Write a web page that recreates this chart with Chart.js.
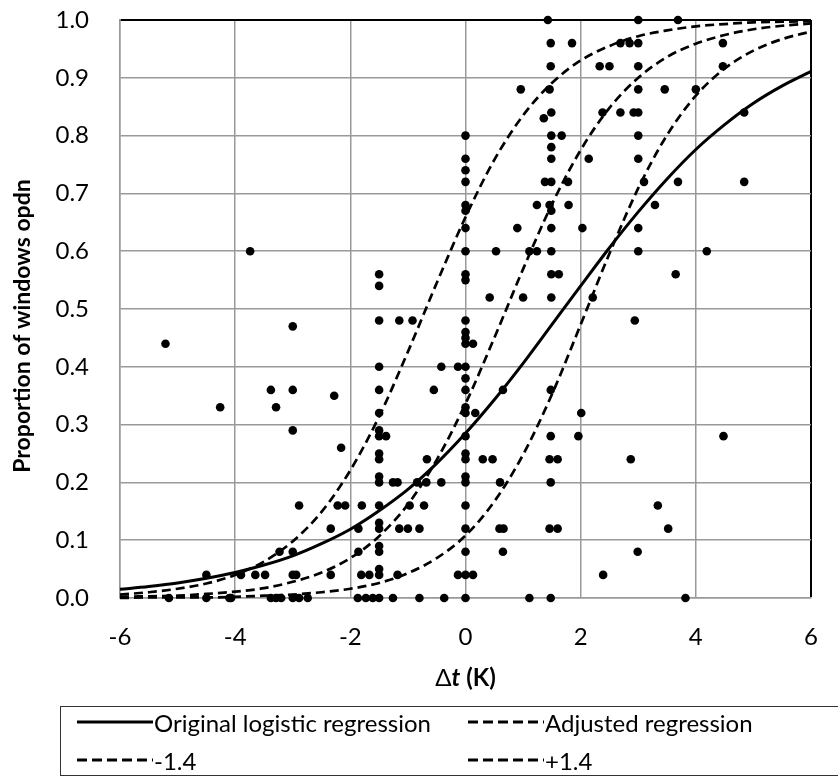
<!DOCTYPE html>
<html>
<head>
<meta charset="utf-8">
<script src="https://cdn.jsdelivr.net/npm/chart.js@4.4.1/dist/chart.umd.min.js"></script>
<style>
  html, body { margin: 0; padding: 0; background: #fff; overflow: hidden; }
  #wrap { position: relative; width: 838px; height: 776px; }
  #myChart { display: block; }
  #legend {
    position: absolute; left: 60px; top: 706px; width: 800px; height: 68px;
    border: 1px solid #333; font-family: Lato, sans-serif; font-size: 24px; color: #000;
  }
  .item { position: absolute; display: flex; align-items: center; height: 30px; white-space: nowrap; }
  .item svg { display: block; margin-right: 1px; }
</style>
</head>
<body>
<div id="wrap">
  <canvas id="myChart" width="838" height="776"></canvas>
  <div id="legend"></div>
</div>
<script>
// -----------------------------------------------------------------------------
// observations (delta t, proportion of windows open)
const dotX = [
  1.43, 3.00, 3.69,
  1.48, 1.85, 2.69, 2.85, 3.00, 4.47,
  1.48, 2.33, 2.50, 3.00, 4.47,
  0.96, 1.46, 3.00, 3.46, 4.00,
  1.36, 1.49, 2.38, 2.69, 2.92, 3.00, 4.84,
  0.00, 1.49, 1.67, 3.00, 1.49,
  0.00, 1.49, 2.14, 3.00, 0.00,
  0.00, 1.38, 1.49, 1.78, 3.10, 3.69, 4.84,
  0.00, 0.00, 1.24, 1.46, 1.49, 1.79, 3.29,
  0.00, 0.90, 1.49, 2.03, 3.00,
  -3.74, 0.00, 0.53, 1.11, 1.24, 1.49, 3.00, 4.19,
  -1.50, -1.50, 0.00, 0.00, 1.49, 1.62, 3.65,
  0.42, 1.00, 1.49, 2.21,
  -3.00, -1.50, -1.15, -0.92, 0.00, 2.94, 0.00, 0.00,
  -5.21, 0.00, 0.13,
  -1.50, -0.42, -0.13, 0.00, 0.00,
  -3.38, -3.00, -1.50, -0.55, 0.00, 0.65, 1.48, -2.28,
  -4.26, -3.29, 0.00,
  -1.50, 0.00, 0.17, 2.01,
  -3.00, -1.50, -1.50, -1.38, 0.00, 1.48, 1.96, 4.48,
  -2.16, -1.50, 0.00,
  -1.50, -0.67, 0.00, 0.30, 0.47, 1.46, 1.60, 2.87,
  -1.50, 0.00,
  -1.50, -1.26, -1.18, -0.84, -0.68, -0.42, 0.00, 0.60, 1.48,
  -2.89, -2.22, -2.09, -1.80, -1.50, -0.97, -0.72, 0.00, 3.34,
  -2.34, -1.86, -1.50, -1.50, -1.15, -1.00, -0.80, 0.00, 0.59, 0.66, 1.46, 1.60, 3.52,
  -3.23, -3.00, -1.86, -1.50, -1.50, 0.00, 0.65, 2.99,
  -4.50, -3.90, -3.65, -3.48, -3.00, -2.94, -2.34, -1.81, -1.67, -1.50, -1.50, -1.18, -0.13, 0.00, 0.13, 2.39,
  -5.15, -4.50, -4.10, -4.07, -3.38, -3.29, -3.20, -3.00, -2.89, -2.74,
  -1.87, -1.73, -1.61, -1.50, -1.26, -0.80, -0.37, 0.00, 1.11, 1.48, 3.82
];
const dotY = [
  1.00, 1.00, 1.00,
  0.96, 0.96, 0.96, 0.96, 0.96, 0.96,
  0.92, 0.92, 0.92, 0.92, 0.92,
  0.88, 0.88, 0.88, 0.88, 0.88,
  0.83, 0.84, 0.84, 0.84, 0.84, 0.84, 0.84,
  0.80, 0.80, 0.80, 0.80, 0.78,
  0.76, 0.76, 0.76, 0.76, 0.74,
  0.72, 0.72, 0.72, 0.72, 0.72, 0.72, 0.72,
  0.68, 0.67, 0.68, 0.68, 0.67, 0.68, 0.68,
  0.64, 0.64, 0.64, 0.64, 0.64,
  0.60, 0.60, 0.60, 0.60, 0.60, 0.60, 0.60, 0.60,
  0.56, 0.54, 0.56, 0.55, 0.56, 0.56, 0.56,
  0.52, 0.52, 0.52, 0.52,
  0.47, 0.48, 0.48, 0.48, 0.48, 0.48, 0.46, 0.45,
  0.44, 0.44, 0.44,
  0.40, 0.40, 0.40, 0.40, 0.38,
  0.36, 0.36, 0.36, 0.36, 0.36, 0.36, 0.36, 0.35,
  0.33, 0.33, 0.33,
  0.32, 0.32, 0.32, 0.32,
  0.29, 0.29, 0.28, 0.28, 0.28, 0.28, 0.28, 0.28,
  0.26, 0.25, 0.25,
  0.24, 0.24, 0.24, 0.24, 0.24, 0.24, 0.24, 0.24,
  0.21, 0.21,
  0.20, 0.20, 0.20, 0.20, 0.20, 0.20, 0.20, 0.20, 0.20,
  0.16, 0.16, 0.16, 0.16, 0.16, 0.16, 0.16, 0.16, 0.16,
  0.12, 0.12, 0.13, 0.12, 0.12, 0.12, 0.12, 0.12, 0.12, 0.12, 0.12, 0.12, 0.12,
  0.08, 0.08, 0.08, 0.09, 0.08, 0.08, 0.08, 0.08,
  0.04, 0.04, 0.04, 0.04, 0.04, 0.04, 0.04, 0.04, 0.04, 0.05, 0.04, 0.04, 0.04, 0.04, 0.04, 0.04,
  0, 0, 0, 0, 0, 0, 0, 0, 0, 0,
  0, 0, 0, 0, 0, 0, 0, 0, 0, 0, 0
];

// regression curves, every 0.5 K
const curveX = [-6, -5.5, -5, -4.5, -4, -3.5, -3, -2.5, -2, -1.5, -1, -0.5, 0,
  0.5, 1, 1.5, 2, 2.5, 3, 3.5, 4, 4.5, 5, 5.5, 6];
const originalY = [0.015, 0.020, 0.026, 0.034, 0.044, 0.057, 0.073, 0.094, 0.119, 0.151, 0.188, 0.233, 0.285,
  0.343, 0.406, 0.473, 0.540, 0.606, 0.668, 0.725, 0.776, 0.819, 0.856, 0.886, 0.911];
const adjustedY = [0.002, 0.003, 0.004, 0.007, 0.011, 0.017, 0.028, 0.044, 0.069, 0.107, 0.162, 0.239, 0.336,
  0.450, 0.569, 0.681, 0.775, 0.848, 0.900, 0.936, 0.959, 0.974, 0.984, 0.990, 0.994];
const minusY = [0.006, 0.010, 0.016, 0.025, 0.040, 0.063, 0.098, 0.149, 0.221, 0.314, 0.426, 0.545, 0.659,
  0.758, 0.835, 0.891, 0.930, 0.955, 0.972, 0.982, 0.989, 0.993, 0.996, 0.997, 0.998];
const plusY = [0.000, 0.001, 0.001, 0.001, 0.002, 0.004, 0.006, 0.010, 0.016, 0.026, 0.043, 0.069, 0.108,
  0.167, 0.248, 0.352, 0.473, 0.596, 0.709, 0.801, 0.869, 0.916, 0.947, 0.967, 0.980];

const seriesLabels = ["Original logistic regression", "Adjusted regression", "-1.4", "+1.4"];
const xTicks = { min: -6, max: 6, step: 2 };
const yTicks = { min: 0, max: 1, step: 0.1 };
const yTitle = "Proportion of windows opdn";
// -----------------------------------------------------------------------------

const ctx = document.getElementById("myChart");
const gridGrey = "#999999";

function toPoints(xs, ys) {
  return xs.map((x, i) => ({ x: x, y: ys[i] }));
}

function curve(label, ys, dashed) {
  return {
    type: "line",
    label: label,
    data: toPoints(curveX, ys),
    borderColor: "#000",
    borderWidth: dashed ? 2.7 : 3,
    borderDash: dashed ? [9, 5] : [],
    pointRadius: 0,
    fill: false,
    cubicInterpolationMode: "monotone",
    clip: false,
  };
}

// axis titles drawn by hand so the t can be bold italic
const axisTitles = {
  id: "axisTitles",
  afterDraw(chart) {
    const c = chart.ctx;
    const area = chart.chartArea;
    c.save();
    c.fillStyle = "#000";
    c.textBaseline = "middle";
    c.textAlign = "center";
    c.translate(23, 326);
    c.rotate(-Math.PI / 2);
    c.font = "bold 23px Lato";
    c.fillText(yTitle, 0, 0);
    c.restore();

    c.save();
    c.fillStyle = "#000";
    c.textBaseline = "middle";
    c.textAlign = "left";
    const parts = [
      ["\u0394", "24px Lato"],
      ["t", "italic bold 24px Lato"],
      [" (K)", "bold 24px Lato"],
    ];
    let total = 0;
    parts.forEach((p) => { c.font = p[1]; total += c.measureText(p[0]).width; });
    let x = (area.left + area.right) / 2 - total / 2;
    parts.forEach((p) => {
      c.font = p[1];
      c.fillText(p[0], x, 678);
      x += c.measureText(p[0]).width;
    });
    c.restore();
  },
};

const myChart = new Chart(ctx, {
  type: "scatter",
  data: {
    datasets: [
      {
        label: "observed",
        data: toPoints(dotX, dotY),
        backgroundColor: "#000",
        borderWidth: 0,
        pointRadius: 4.3,
        clip: false,
      },
      curve(seriesLabels[0], originalY, false),
      curve(seriesLabels[1], adjustedY, true),
      curve(seriesLabels[2], minusY, true),
      curve(seriesLabels[3], plusY, true),
    ],
  },
  options: {
    responsive: false,
    animation: false,
    layout: { padding: { top: 20, right: 27, left: 0, bottom: 0 }, autoPadding: false },
    plugins: { legend: { display: false }, tooltip: { enabled: false } },
    scales: {
      x: {
        type: "linear",
        min: xTicks.min,
        max: xTicks.max,
        ticks: {
          stepSize: xTicks.step,
          color: "#000",
          font: { family: "Lato", size: 24 },
          padding: 25,
          maxRotation: 0,
        },
        grid: {
          drawTicks: false,
          lineWidth: (c) => (c.tick && c.tick.value === xTicks.max ? 2 : 1.5),
          color: (c) => (c.tick && c.tick.value === xTicks.max ? "#000" : gridGrey),
        },
        border: { color: gridGrey, width: 1.5 },
        afterFit(scale) {
          scale.height = 178;
          scale.paddingLeft = 0;
          scale.paddingRight = 0;
        },
      },
      y: {
        min: yTicks.min,
        max: yTicks.max,
        ticks: {
          stepSize: yTicks.step,
          color: "#000",
          font: { family: "Lato", size: 24 },
          padding: 31,
          callback: (v) => v.toFixed(1),
        },
        grid: {
          drawTicks: false,
          lineWidth: (c) => (c.tick && Math.abs(c.tick.value - yTicks.max) < 1e-9 ? 2 : 1.5),
          color: (c) => (c.tick && Math.abs(c.tick.value - yTicks.max) < 1e-9 ? "#000" : gridGrey),
        },
        border: { color: gridGrey, width: 1.5 },
        afterFit(scale) {
          scale.width = 120;
          scale.paddingTop = 0;
          scale.paddingBottom = 0;
        },
      },
    },
  },
  plugins: [axisTitles],
});

// -----------------------------------------------------------------------------
// legend box under the chart, two columns
function buildLegend() {
  const box = document.getElementById("legend");
  const spots = [[16, 0], [407, 0], [16, 38], [407, 38]];
  myChart.data.datasets.slice(1).forEach((ds, i) => {
    const item = document.createElement("div");
    item.className = "item";
    item.style.left = spots[i][0] + "px";
    item.style.top = spots[i][1] + "px";
    const dash = ds.borderDash.length ? 'stroke-dasharray="10 5"' : "";
    item.innerHTML =
      '<svg width="76" height="6"><line x1="0" y1="3" x2="76" y2="3" stroke="#000" stroke-width="3" ' +
      dash + "/></svg><span>" + ds.label + "</span>";
    box.appendChild(item);
  });
}
buildLegend();
</script>
</body>
</html>
